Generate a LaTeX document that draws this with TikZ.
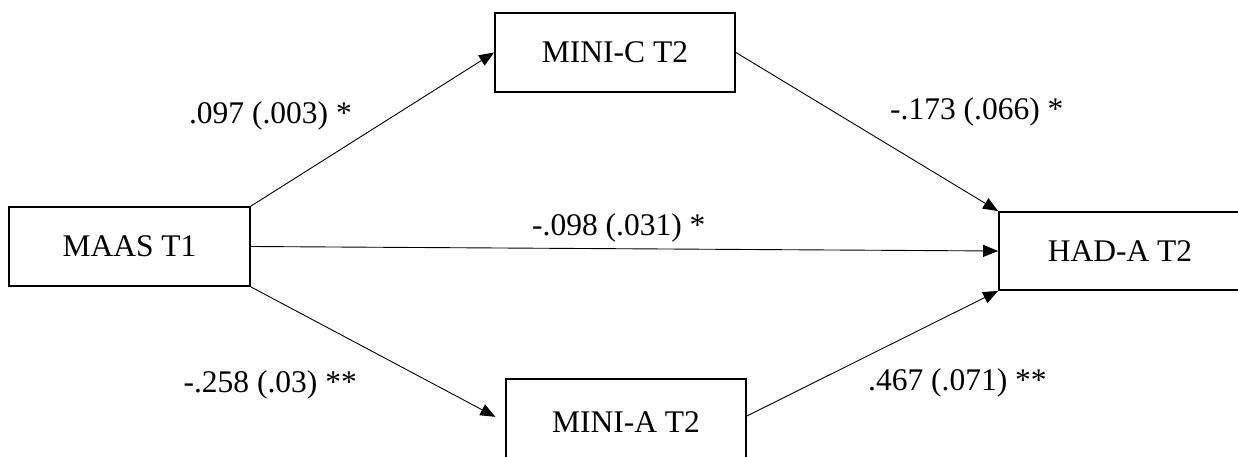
\documentclass[tikz,border=0pt]{standalone}
\usepackage{fontspec}
\setmainfont{Liberation Serif}
\usetikzlibrary{arrows.meta}
\begin{document}
\begin{tikzpicture}[x=1pt,y=1pt,
  box/.style={draw,line width=1.8pt,inner sep=0pt,font=\fontsize{31.5}{36}\selectfont},
  lbl/.style={inner sep=0pt,font=\fontsize{31.5}{36}\selectfont},
  arr/.style={line width=0.9pt,-{Triangle[length=15pt,width=12pt]}}]
\useasboundingbox (0,0) rectangle (1238,456);
\node[box,minimum width=241pt,minimum height=79pt] (maas) at (129.5,209.5) {MAAS T1};
\node[box,minimum width=240pt,minimum height=79pt] (minic) at (615,403.5) {MINI-C T2};
\node[box,minimum width=240pt,minimum height=86pt] (minia) at (626,34) {MINI-A T2};
\node[box,minimum width=242pt,minimum height=78pt] (hada) at (1120,205) {HAD-A T2};
\draw[arr] (maas.north east) -- (minic.west);
\draw[arr] (minic.east) -- (hada.north west);
\draw[arr] (maas.east) -- (hada.west);
\draw[arr,shorten >=11pt] (maas.south east) -- (minia.west);
\draw[arr] ([yshift=6pt]minia.east) -- (hada.south west);
\node[lbl,anchor=east] (l1) at (352,340) {.097 (.003) *};
\node[lbl,anchor=west] (l2) at (890,344) {-.173 (.066) *};
\node[lbl,anchor=west] (l3) at (532,228) {-.098 (.031) *};
\node[lbl,anchor=east] (l4) at (357,71) {-.258 (.03) **};
\node[lbl,anchor=west] (l5) at (868,73) {.467 (.071) **};
\end{tikzpicture}
\end{document}
